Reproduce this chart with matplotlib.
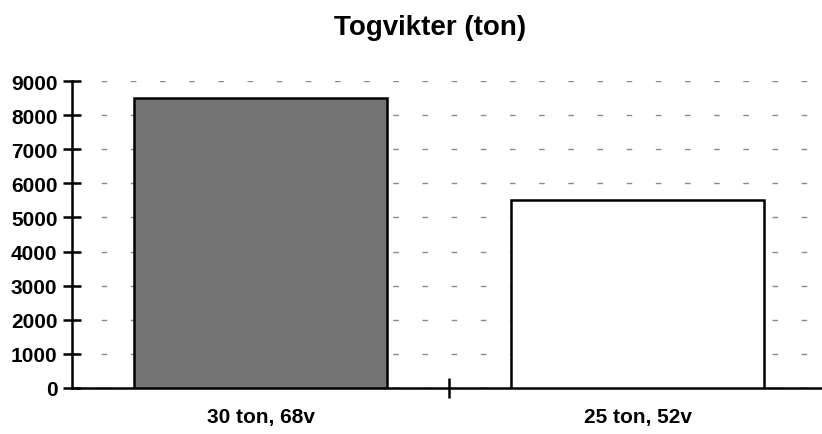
import matplotlib.pyplot as plt

categories = ["30 ton, 68v", "25 ton, 52v"]
weights = [8500, 5500]
bar_colors = ["#747474", "white"]
yticks = list(range(0, 10000, 1000))

plt.rcParams["font.family"] = ["Liberation Sans", "DejaVu Sans"]

fig = plt.figure(figsize=(8.22, 4.35), dpi=100)
ax = fig.add_axes([72 / 822, 46 / 435, 754 / 822, 307 / 435])

x = range(len(categories))
ax.bar(x, weights, width=0.67, color=bar_colors, edgecolor="black",
       linewidth=1.8, zorder=3)

ax.set_xlim(-0.5, 1.5)
ax.set_ylim(0, 9000)
ax.set_yticks(yticks)
ax.set_yticklabels([str(v) for v in yticks], fontsize=15, fontweight="bold")

# category labels sit under the bars, tick marks between categories
ax.set_xticks(list(x))
ax.set_xticklabels(categories, fontsize=15, fontweight="bold")
ax.tick_params(axis="x", which="major", length=0, pad=14)
ax.set_xticks([0.5, 1.5], minor=True)
ax.tick_params(axis="x", which="minor", direction="inout", length=14, width=1.8)
ax.tick_params(axis="y", direction="inout", length=13, width=1.8, pad=4)

ax.yaxis.grid(True, color="#8a8a8a", linewidth=1.0, linestyle=(0, (4, 17)), zorder=0)
for s in ["top", "right"]:
    ax.spines[s].set_visible(False)
ax.spines["left"].set_linewidth(1.8)
ax.spines["bottom"].set_linewidth(1.8)

fig.suptitle("Togvikter (ton)", fontsize=20, fontweight="bold", x=0.523, y=0.965)

plt.savefig("out.png", dpi=100)
plt.close()
